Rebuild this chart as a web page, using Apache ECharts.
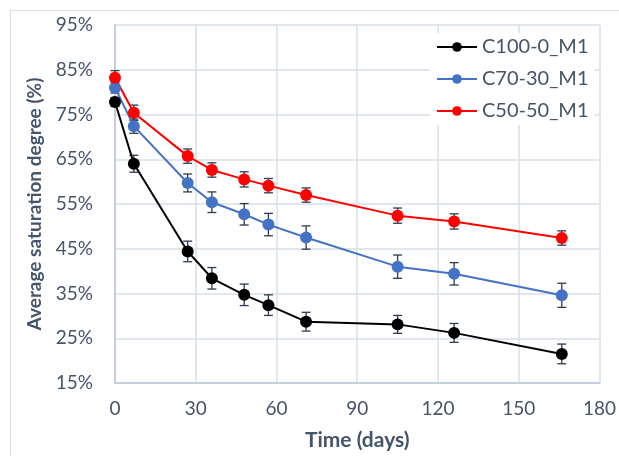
<!DOCTYPE html>
<html>
<head>
<meta charset="utf-8">
<script src="https://cdn.jsdelivr.net/npm/echarts@6/dist/echarts.min.js"></script>
<style>
html,body{margin:0;padding:0;background:#fff;}
#chart{width:619px;height:456px;}
</style>
</head>
<body>
<div id="chart"></div>
<script>
var days = [0, 7, 27, 36, 48, 57, 71, 105, 126, 166];
var seriesNames = ['C100-0_M1', 'C70-30_M1', 'C50-50_M1'];
var c100 = [77.8, 64.0, 44.4, 38.4, 34.7, 32.4, 28.7, 28.1, 26.2, 21.5];
var c70 = [81.0, 72.4, 59.7, 55.4, 52.7, 50.4, 47.5, 41.0, 39.4, 34.6];
var c50 = [83.2, 75.4, 65.7, 62.6, 60.5, 59.1, 57.0, 52.4, 51.1, 47.4];
var c100Err = [1.0, 1.9, 2.3, 2.4, 2.4, 2.3, 2.1, 2.0, 2.1, 2.2];
var c70Err = [1.2, 1.6, 2.0, 2.3, 2.4, 2.5, 2.6, 2.6, 2.5, 2.7];
var c50Err = [1.6, 1.7, 1.6, 1.6, 1.7, 1.6, 1.6, 1.7, 1.7, 1.6];
var xTicks = [0, 30, 60, 90, 120, 150, 180];
var yTicks = [15, 25, 35, 45, 55, 65, 75, 85, 95];

var colors = ['#000000', '#4472C4', '#FF0000'];
var values = [c100, c70, c50];
var errs = [c100Err, c70Err, c50Err];
var textColor = '#44546A';
var font = 'Lato';

var chart = echarts.init(document.getElementById('chart'));
var series = [];
values.forEach(function (vals, si) {
  series.push({
    type: 'custom',
    name: seriesNames[si] + '_err',
    z: 3,
    silent: true,
    data: days.map(function (d, i) { return [d, vals[i] - errs[si][i], vals[i] + errs[si][i]]; }),
    renderItem: function (params, api) {
      var lo = api.coord([api.value(0), api.value(1)]);
      var hi = api.coord([api.value(0), api.value(2)]);
      var hw = 4.5;
      var st = { stroke: '#2E3A4E', lineWidth: 1.3 };
      return {
        type: 'group',
        children: [
          { type: 'line', shape: { x1: lo[0], y1: lo[1], x2: hi[0], y2: hi[1] }, style: st },
          { type: 'line', shape: { x1: lo[0] - hw, y1: lo[1], x2: lo[0] + hw, y2: lo[1] }, style: st },
          { type: 'line', shape: { x1: hi[0] - hw, y1: hi[1], x2: hi[0] + hw, y2: hi[1] }, style: st }
        ]
      };
    }
  });
});
values.forEach(function (vals, si) {
  series.push({
    type: 'line',
    name: seriesNames[si],
    z: 4,
    data: days.map(function (d, i) { return [d, vals[i]]; }),
    symbol: 'circle',
    symbolSize: 12,
    lineStyle: { color: colors[si], width: 2 },
    itemStyle: { color: colors[si] },
    animation: false
  });
});

chart.setOption({
  animation: false,
  backgroundColor: '#fff',
  graphic: [{
    type: 'rect',
    shape: { x: 10.5, y: 10.5, width: 640, height: 480 },
    style: { fill: 'none', stroke: '#D9DEE6', lineWidth: 1 },
    z: -1
  }],
  grid: { left: 115, top: 25, right: 19, bottom: 70, containLabel: false },
  xAxis: {
    type: 'value',
    min: xTicks[0],
    max: xTicks[xTicks.length - 1],
    interval: 30,
    name: 'Time (days)',
    nameLocation: 'middle',
    nameGap: 47,
    nameTextStyle: { color: textColor, fontFamily: font, fontSize: 21, fontWeight: 'bold' },
    axisLine: { lineStyle: { color: '#BCC6D8', width: 1.5 } },
    axisTick: { show: false },
    axisLabel: { color: textColor, fontFamily: font, fontSize: 19, margin: 16 },
    splitLine: { show: true, lineStyle: { color: '#D9DEE8', width: 1.5 } }
  },
  yAxis: {
    type: 'value',
    min: yTicks[0],
    max: yTicks[yTicks.length - 1],
    interval: 10,
    name: 'Average saturation degree (%)',
    nameLocation: 'middle',
    nameGap: 71,
    nameTextStyle: { color: textColor, fontFamily: font, fontSize: 19, fontWeight: 'bold' },
    axisLine: { show: true, lineStyle: { color: '#BCC6D8', width: 1.5 } },
    axisTick: { show: false },
    axisLabel: { color: textColor, fontFamily: font, fontSize: 19, margin: 22, formatter: '{value}%' },
    splitLine: { show: true, lineStyle: { color: '#D9DEE8', width: 1.5 } }
  },
  legend: {
    data: seriesNames,
    orient: 'vertical',
    left: 430,
    top: 33,
    padding: [4, 6, 4, 6],
    itemGap: 12,
    itemWidth: 40,
    itemHeight: 12,
    backgroundColor: '#ffffff',
    textStyle: { color: textColor, fontFamily: font, fontSize: 20 },
    z: 10
  },
  series: series
});
</script>
</body>
</html>
